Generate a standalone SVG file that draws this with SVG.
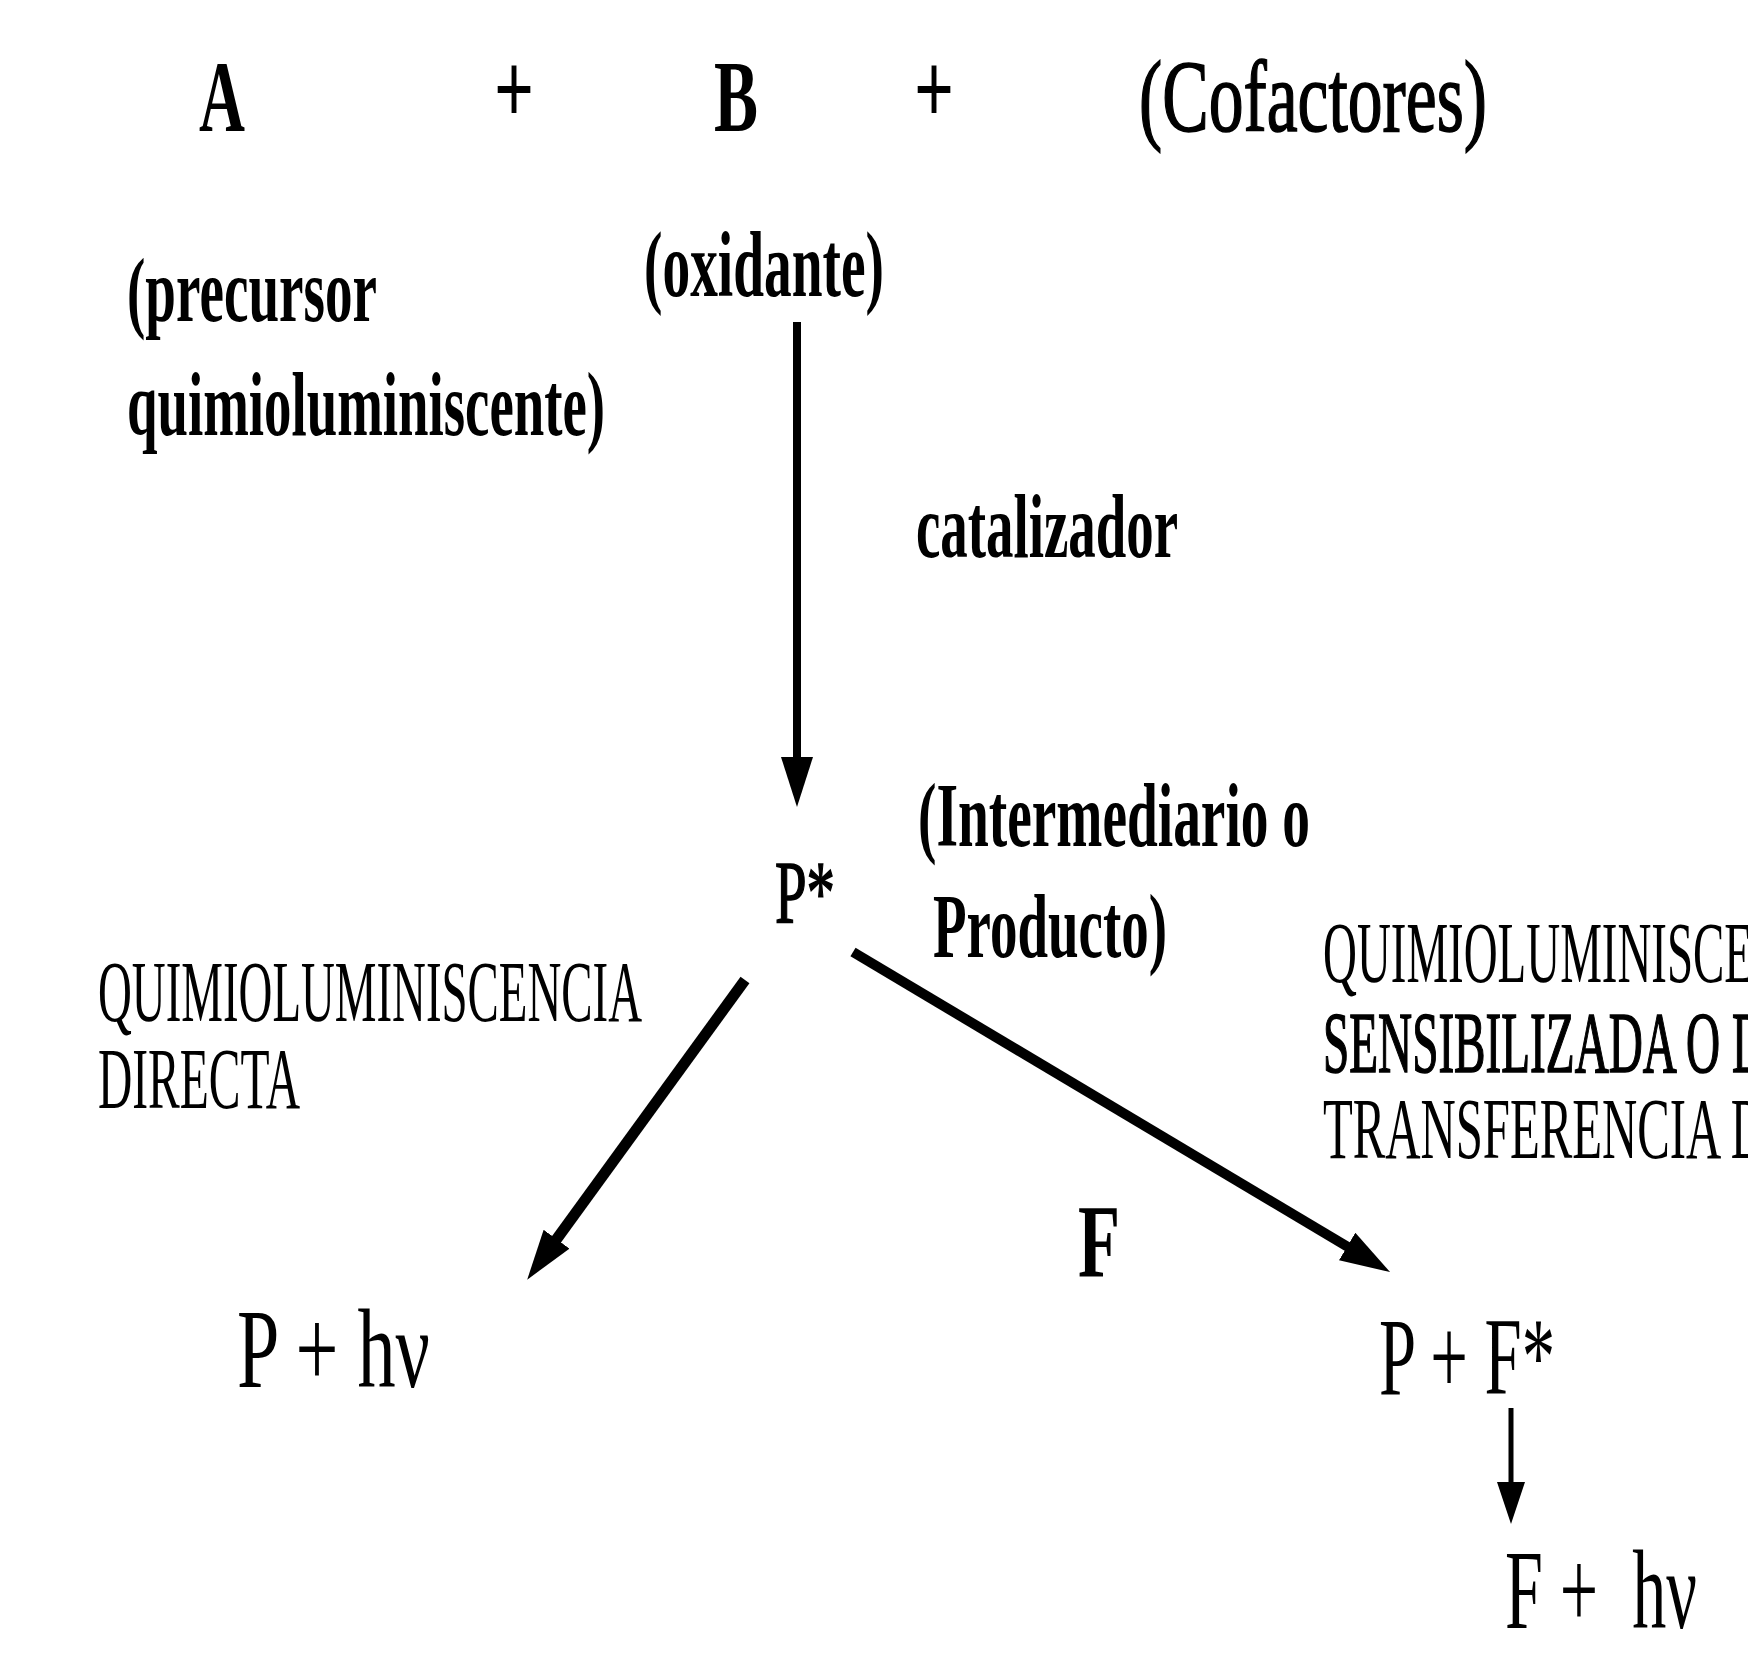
<svg xmlns="http://www.w3.org/2000/svg" width="1748" height="1664" viewBox="0 0 1748 1664">
<defs>
<style>
text{font-family:"Liberation Serif","Times New Roman",serif;fill:#000}
.b{font-weight:bold}
.m{stroke:#000;stroke-width:1.6}
.top{font-size:102px}
.lbl{font-size:92px}
.cap{font-size:86px}
.big{font-size:112px}
.ln{stroke:#000;fill:none}
</style>
<marker id="head" viewBox="0 0 50 32" refX="1" refY="16" markerWidth="50" markerHeight="32" markerUnits="userSpaceOnUse" orient="auto">
<path d="M0,0 L50,16 L0,32 Z" fill="#000"/>
</marker>
<marker id="headS" viewBox="0 0 42 28" refX="1" refY="14" markerWidth="42" markerHeight="28" markerUnits="userSpaceOnUse" orient="auto">
<path d="M0,0 L42,14 L0,28 Z" fill="#000"/>
</marker>
</defs>
<rect width="1748" height="1664" fill="#fff"/>

<g id="connectors">
<line class="ln" x1="797" y1="322" x2="797" y2="758" stroke-width="8" marker-end="url(#head)"/>
<line class="ln" x1="745" y1="980" x2="556" y2="1240" stroke-width="11" marker-end="url(#head)"/>
<line class="ln" x1="853" y1="952" x2="1348" y2="1247" stroke-width="10" marker-end="url(#head)"/>
<line class="ln" x1="1511" y1="1408" x2="1511" y2="1483" stroke-width="5" marker-end="url(#headS)"/>
</g>

<g id="node-A"><text class="top b" x="199" y="131" textLength="46" lengthAdjust="spacingAndGlyphs">A</text></g>
<g id="plus-1"><text class="top b" x="494" y="123" textLength="40" lengthAdjust="spacingAndGlyphs">+</text></g>
<g id="node-B"><text class="top b" x="714" y="131" textLength="44" lengthAdjust="spacingAndGlyphs">B</text></g>
<g id="plus-2"><text class="top b" x="914" y="123" textLength="40" lengthAdjust="spacingAndGlyphs">+</text></g>
<g id="node-cofactores"><text class="top m" x="1139" y="131" textLength="348" lengthAdjust="spacingAndGlyphs">(Cofactores)</text></g>

<g id="label-precursor">
<text class="lbl b" x="127" y="321" textLength="250" lengthAdjust="spacingAndGlyphs">(precursor</text>
<text class="lbl b" x="127" y="435" textLength="478" lengthAdjust="spacingAndGlyphs">quimioluminiscente)</text>
</g>
<g id="label-oxidante"><text class="b" font-size="94" x="644" y="296" textLength="240" lengthAdjust="spacingAndGlyphs">(oxidante)</text></g>
<g id="label-catalizador"><text class="lbl b" x="916" y="557" textLength="262" lengthAdjust="spacingAndGlyphs">catalizador</text></g>

<g id="node-Pstar"><text class="m" font-size="88" x="775" y="922" textLength="60" lengthAdjust="spacingAndGlyphs">P*</text></g>
<g id="label-intermediario">
<text class="b" font-size="90" x="918" y="846" textLength="392" lengthAdjust="spacingAndGlyphs">(Intermediario o</text>
<text class="b" font-size="90" x="933" y="957" textLength="234" lengthAdjust="spacingAndGlyphs">Producto)</text>
</g>

<g id="label-directa">
<text class="cap" x="98" y="1021" textLength="544" lengthAdjust="spacingAndGlyphs">QUIMIOLUMINISCENCIA</text>
<text class="cap" x="98" y="1108" textLength="202" lengthAdjust="spacingAndGlyphs">DIRECTA</text>
</g>

<g id="label-sensibilizada">
<text class="cap" x="1323" y="982" textLength="430" lengthAdjust="spacingAndGlyphs">QUIMIOLUMINISCE</text>
<text class="cap m" x="1323" y="1072" textLength="443" lengthAdjust="spacingAndGlyphs">SENSIBILIZADA O D</text>
<text class="cap" x="1323" y="1158" textLength="443" lengthAdjust="spacingAndGlyphs">TRANSFERENCIA D</text>
</g>

<g id="label-F"><text class="b" font-size="104" x="1078" y="1276" textLength="42" lengthAdjust="spacingAndGlyphs">F</text></g>

<g id="node-P-hv"><text class="big" x="237" y="1387" textLength="193" lengthAdjust="spacingAndGlyphs">P + hν</text></g>
<g id="node-P-Fstar"><text font-size="110" x="1379" y="1394" textLength="176" lengthAdjust="spacingAndGlyphs">P + F*</text></g>
<g id="node-F-hv"><text class="big" x="1505" y="1628" textLength="192" lengthAdjust="spacingAndGlyphs" xml:space="preserve">F +  hν</text></g>
</svg>
